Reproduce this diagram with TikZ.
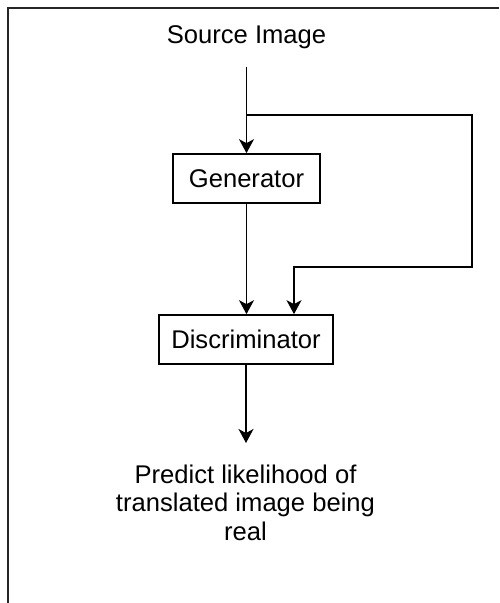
\documentclass[tikz,border=0pt]{standalone}
\usepackage{fontspec}
\setmainfont{Liberation Sans}
\usetikzlibrary{arrows.meta}
\begin{document}
\begin{tikzpicture}[x=1pt,y=-1pt,
  lbl/.style={font=\fontsize{25.6}{28.5}\selectfont, inner sep=0pt},
  blk/.style={draw=black, line width=1.7pt, minimum width=147pt, minimum height=49pt,
    inner sep=0pt, text height=18pt, text depth=0pt, font=\fontsize{25.6}{29}\selectfont},
  arr/.style={line width=1.7pt, -{Stealth[length=14pt,width=15pt,inset=4pt]}},
  frm/.style={line width=2.2pt, draw=black!85}]
\useasboundingbox (0,0) rectangle (499,603);
\coordinate (fa) at (8,603);
\coordinate (fb) at (8,8);
\coordinate (fc) at (499,8);
\draw[frm] (fa) -- (fb) -- (fc);
\node[lbl, anchor=base] (src) at (246.5,43) {Source Image};
\node[blk] (gen) at (246.5,178.5) {Generator};
\node[blk, minimum width=174pt] (disc) at (246,339.5) {Discriminator};
\node[lbl, align=center, anchor=base] (out) at (245.5,540) {Predict likelihood of\\translated image being\\real};
\coordinate (b) at (246.5,115);
\coordinate (r1) at (472,115);
\coordinate (r2) at (472,267);
\coordinate (r3) at (294,267);
\coordinate (tip) at (246,443);
\draw[arr, shorten <=18pt] (src.south) -- (gen.north);
\draw[arr] (b) -- (r1) -- (r2) -- (r3) -- (r3 |- disc.north);
\draw[arr] (gen.south) -- (gen.south |- disc.north);
\draw[arr] (disc.south) -- (tip);
\end{tikzpicture}
\end{document}
